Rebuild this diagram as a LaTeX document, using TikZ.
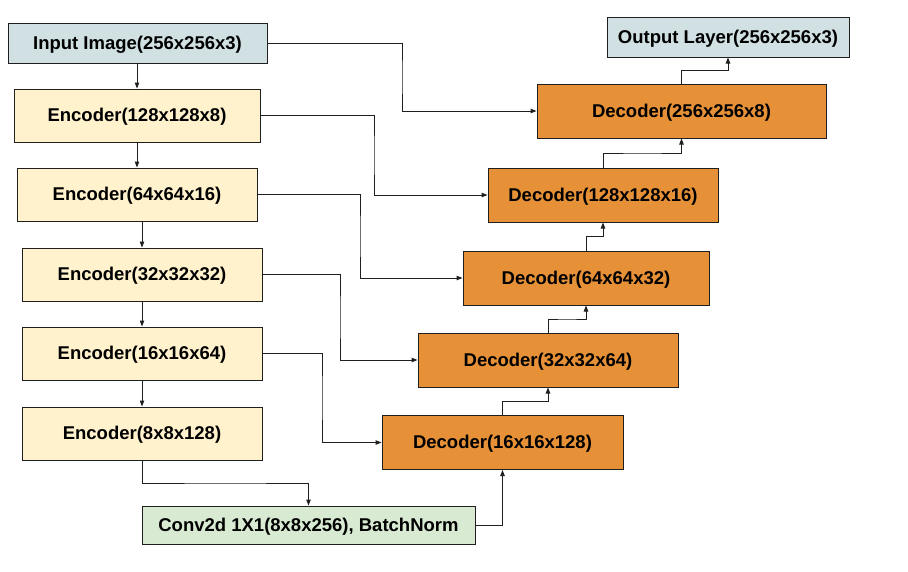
\documentclass[tikz,border=0pt]{standalone}
\usepackage{fontspec}
\setmainfont{Liberation Sans}
\usetikzlibrary{arrows.meta,calc}
\definecolor{io}{HTML}{D0E0E3}
\definecolor{enc}{HTML}{FFF2CC}
\definecolor{dec}{HTML}{E69138}
\definecolor{mid}{HTML}{D9EAD3}
\definecolor{ln}{HTML}{1F1F1F}
\tikzset{
  box/.style={draw=ln,line width=1pt,fill=enc,align=center,inner sep=0pt,text height=14pt,text depth=1.5pt,font=\fontsize{18.5}{22}\selectfont\bfseries},
  iobox/.style={box,fill=io,minimum height=40pt},
  ebox/.style={box,minimum width=240pt,minimum height=53pt},
  dbox/.style={box,fill=dec,minimum height=54pt},
  cbox/.style={box,fill=mid,minimum height=38pt},
  ar/.style={-{Triangle[length=6pt,width=4.5pt]},line width=1pt,draw=ln},
  hv/.style={to path={-| ($(\tikztostart)!.5!(\tikztotarget)$) |- (\tikztotarget)}},
  vh/.style={to path={|- ($(\tikztostart)!.5!(\tikztotarget)$) -| (\tikztotarget)}},
}
\begin{document}
\begin{tikzpicture}[x=1pt,y=-1pt]
\useasboundingbox (0,0) rectangle (908,571);
\node[iobox,minimum width=259pt] (in) at (137.5,43) {Input Image(256x256x3)};
\node[ebox,minimum width=246pt] (enc1) at (137,115.5) {Encoder(128x128x8)};
\node[ebox] (enc2) at (137,194.5) {Encoder(64x64x16)};
\node[ebox] (enc3) at (142,274.5) {Encoder(32x32x32)};
\node[ebox] (enc4) at (142,353.5) {Encoder(16x16x64)};
\node[ebox] (enc5) at (142,433.5) {Encoder(8x8x128)};
\node[cbox,minimum width=333pt] (conv) at (308.5,525) {Conv2d 1X1(8x8x256), BatchNorm};
\node[dbox,minimum width=241pt] (d16) at (502.5,442.5) {Decoder(16x16x128)};
\node[dbox,minimum width=260pt] (d32) at (548,360) {Decoder(32x32x64)};
\node[dbox,minimum width=246pt] (d64) at (586,278) {Decoder(64x64x32)};
\node[dbox,minimum width=230pt] (d128) at (603,195) {Decoder(128x128x16)};
\node[dbox,minimum width=289pt] (d256) at (681.5,111) {Decoder(256x256x8)};
\node[iobox,minimum width=242pt] (out) at (728,37) {Output Layer(256x256x3)};

\draw[ar] (enc1.north |- in.south) -- (enc1.north);
\draw[ar] (enc1.south) -- (enc2.north);
\draw[ar] (enc3.north |- enc2.south) -- (enc3.north);
\draw[ar] (enc3.south) -- (enc4.north);
\draw[ar] (enc4.south) -- (enc5.north);
\draw[ar] (enc5.south) to[vh] (conv.north);
\draw[ar] (conv.east) -| (d16.south);
\draw[ar] (d16.north) to[vh] (d32.south);
\draw[ar] (d32.north) to[vh] (d64.south);
\draw[ar] (d64.north) to[vh] (d128.south);
\draw[ar] (d128.north) to[vh] (d256.south);
\draw[ar] (d256.north) to[vh] (out.south);

\draw[ar] (in.east) to[hv] (d256.west);
\draw[ar] (enc1.east) to[hv] (d128.west);
\draw[ar] (enc2.east) to[hv] (d64.west);
\draw[ar] (enc3.east) to[hv] (d32.west);
\draw[ar] (enc4.east) to[hv] (d16.west);
\end{tikzpicture}
\end{document}
